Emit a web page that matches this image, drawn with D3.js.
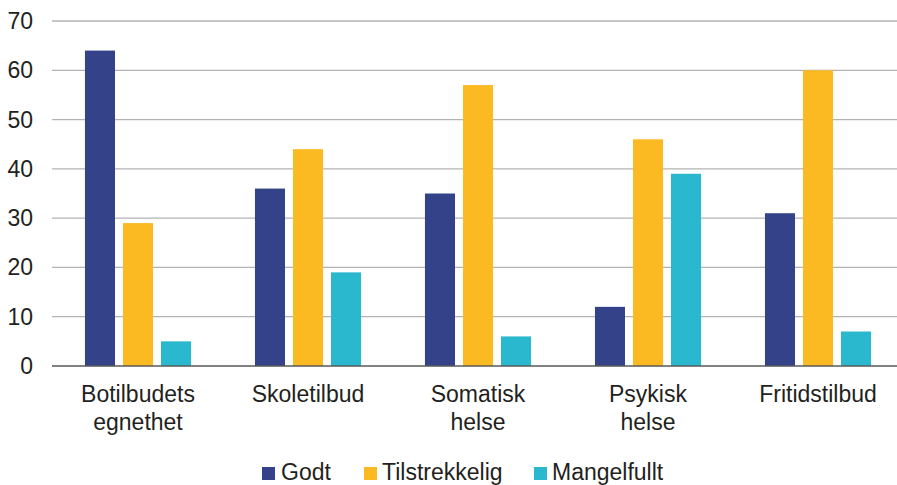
<!DOCTYPE html>
<html>
<head>
<meta charset="utf-8">
<script src="https://cdn.jsdelivr.net/npm/d3@7"></script>
<style>
	body { margin: 0; background: #fff; }
	svg { display: block; font-family: "Liberation Sans", Arial, sans-serif; }
</style>
</head>
<body>
<div id="chart"></div>
<script>
const categories = [["Botilbudets", "egnethet"], ["Skoletilbud"], ["Somatisk", "helse"], ["Psykisk", "helse"], ["Fritidstilbud"]];
const seriesNames = ["Godt", "Tilstrekkelig", "Mangelfullt"];
const godt = [64, 36, 35, 12, 31];
const tilstrekkelig = [29, 44, 57, 46, 60];
const mangelfullt = [5, 19, 6, 39, 7];
const yTicks = [0, 10, 20, 30, 40, 50, 60, 70];
const colors = ["#344389", "#fbba22", "#2ab8ce"];

const W = 897, H = 485;
const series = [godt, tilstrekkelig, mangelfullt];

const svg = d3.select("#chart").append("svg")
	.attr("width", W)
	.attr("height", H);

// scales
const x0 = d3.scaleBand()
	.domain(d3.range(categories.length))
	.range([53, 903])
	.paddingInner(0.376)
	.paddingOuter(0.188);

const x1 = d3.scaleBand()
	.domain(d3.range(seriesNames.length))
	.range([0, x0.bandwidth()])
	.paddingInner(0.21);

const y = d3.scaleLinear().domain([0, 70]).range([366, 21]);

// grid
svg.append("g")
	.selectAll("line")
	.data(yTicks.filter(d => d > 0))
	.join("line")
	.attr("x1", 52).attr("x2", W)
	.attr("y1", d => y(d)).attr("y2", d => y(d))
	.attr("stroke", "#b3b3b3")
	.attr("stroke-width", 1.3);

// y tick labels
svg.append("g")
	.selectAll("text")
	.data(yTicks)
	.join("text")
	.attr("x", 33)
	.attr("y", d => y(d))
	.attr("dy", "0.35em")
	.attr("text-anchor", "end")
	.attr("font-size", 23)
	.attr("fill", "#231f20")
	.text(d => d);

// bars
const groups = svg.append("g")
	.selectAll("g")
	.data(categories)
	.join("g")
	.attr("transform", (d, i) => "translate(" + x0(i) + ",0)");

groups.selectAll("rect")
	.data((d, i) => series.map((s, k) => ({k: k, v: s[i]})))
	.join("rect")
	.attr("x", d => x1(d.k))
	.attr("width", x1.bandwidth())
	.attr("y", d => y(d.v))
	.attr("height", d => y(0) - y(d.v))
	.attr("fill", d => colors[d.k]);

// baseline
svg.append("line")
	.attr("x1", 52).attr("x2", W)
	.attr("y1", y(0)).attr("y2", y(0))
	.attr("stroke", "#595959")
	.attr("stroke-width", 1.5);

// category labels
const catLabels = svg.append("g")
	.selectAll("text")
	.data(categories)
	.join("text")
	.attr("x", (d, i) => x0(i) + x0.bandwidth() / 2)
	.attr("y", 402)
	.attr("text-anchor", "middle")
	.attr("font-size", 23)
	.attr("fill", "#231f20");

catLabels.selectAll("tspan")
	.data(d => d)
	.join("tspan")
	.attr("x", function() { return d3.select(this.parentNode).attr("x"); })
	.attr("dy", (d, i) => i === 0 ? 0 : 28)
	.text(d => d);

// legend
const legendX = [262, 364, 534];
const legend = svg.append("g")
	.selectAll("g")
	.data(seriesNames)
	.join("g")
	.attr("transform", (d, i) => "translate(" + legendX[i] + ",0)");

legend.append("rect")
	.attr("x", 0).attr("y", 467)
	.attr("width", 13).attr("height", 13)
	.attr("fill", (d, i) => colors[i]);

legend.append("text")
	.attr("x", (d, i) => i === 0 ? 19 : 18)
	.attr("y", 480)
	.attr("font-size", 23)
	.attr("fill", "#231f20")
	.text(d => d);
</script>
</body>
</html>
